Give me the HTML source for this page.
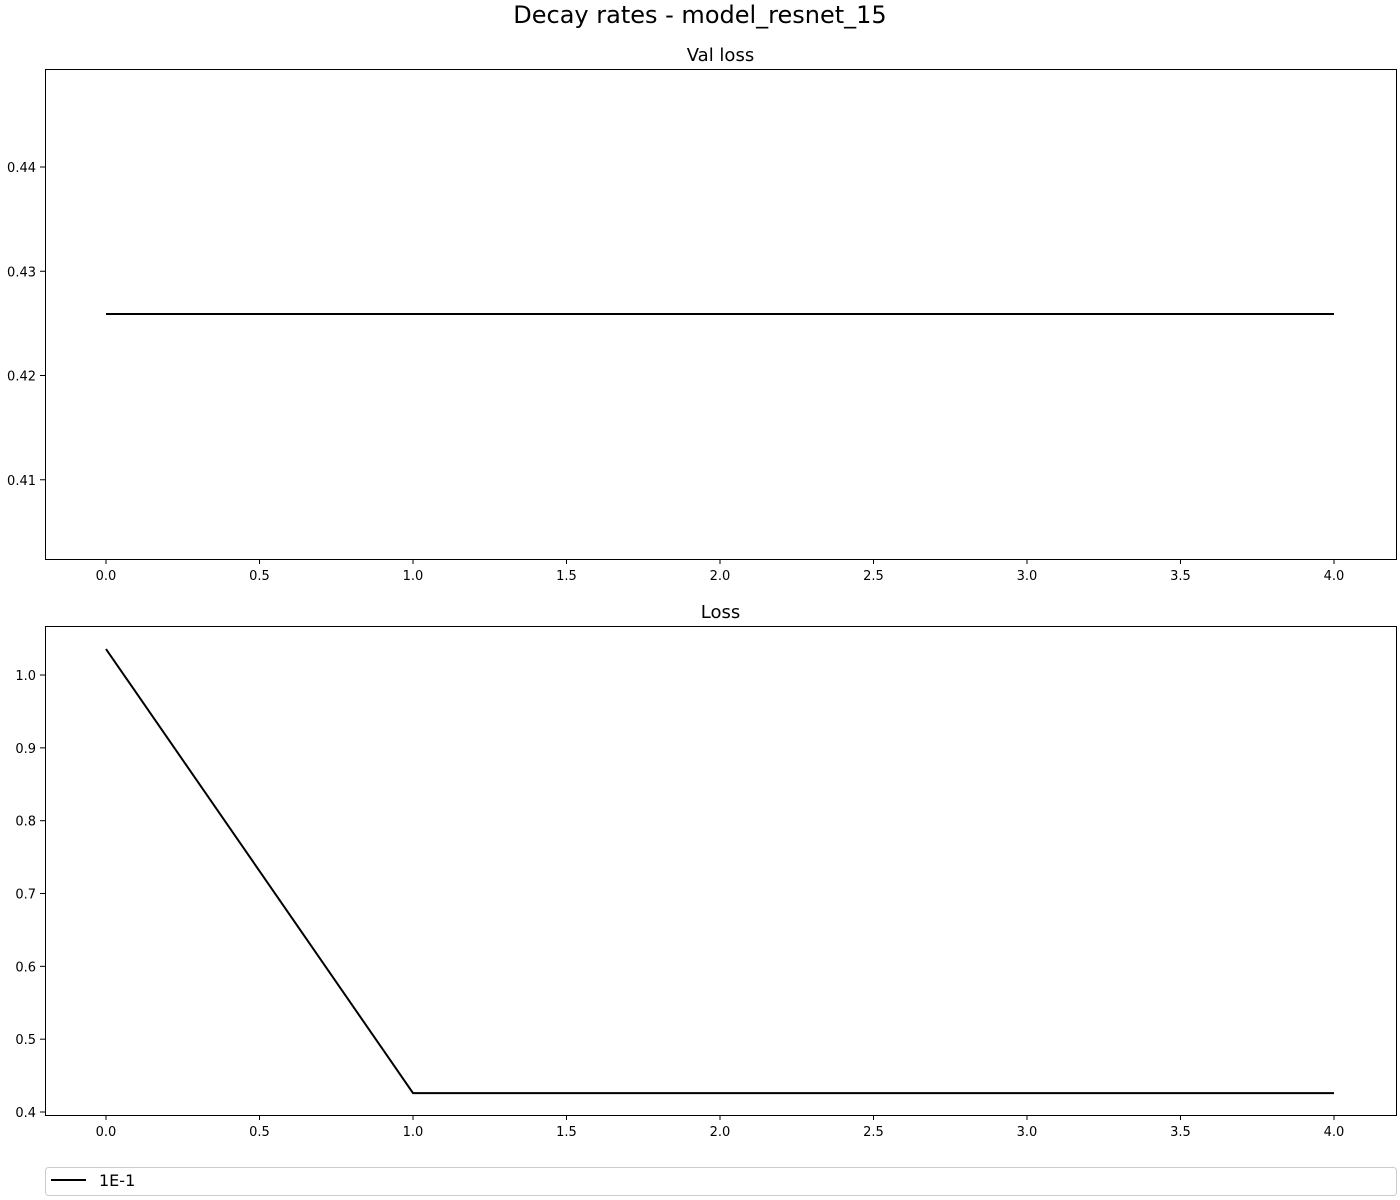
<!DOCTYPE html>
<html><head><meta charset="utf-8"><style>
html,body{margin:0;padding:0;background:#fff;}
svg{display:block;font-family:"DejaVu Sans","Liberation Sans",sans-serif;}
</style></head><body>
<svg id="chart" width="1400" height="1200" xmlns="http://www.w3.org/2000/svg">
<rect width="1400" height="1200" fill="#fff"/>
<text x="700" y="23" text-anchor="middle" font-size="24">Decay rates - model_resnet_15</text>
</svg>
<script>
const epochs = [0, 1, 2, 3, 4];
const valLoss = [0.4259, 0.4259, 0.4259, 0.4259, 0.4259];
const trainLoss = [1.0357, 0.426, 0.426, 0.426, 0.426];
const xTicks = [0, 0.5, 1, 1.5, 2, 2.5, 3, 3.5, 4];
const valYTicks = [0.41, 0.42, 0.43, 0.44];
const lossYTicks = [0.4, 0.5, 0.6, 0.7, 0.8, 0.9, 1.0];
const legendLabels = ['1E-1'];

const NS = 'http://www.w3.org/2000/svg';
const svg = document.getElementById('chart');
function mk(tag, attrs, parent) {
  const e = document.createElementNS(NS, tag);
  for (const k in attrs) e.setAttribute(k, attrs[k]);
  (parent || svg).appendChild(e);
  return e;
}
function panel(name, title, box, ymin, ymax, yTicks, ydec, series) {
  const g = mk('g', {});
  
  
  const xs = v => 106 + (v - 0) * (1334 - 106) / 4;
  const ys = v => box.b - (v - ymin) / (ymax - ymin) * (box.b - box.t);
  const t = mk('text', {x: (box.l + box.r) / 2, y: box.t - 8, 'text-anchor': 'middle', 'font-size': 18}, g);
  t.textContent = title;
  
  
  xTicks.forEach(v => {
    const x = xs(v);
    mk('line', {x1: x, x2: x, y1: box.b, y2: box.b + 5, stroke: '#000', 'stroke-width': 1}, g);
    const tl = mk('text', {x: x, y: box.b + 21, 'text-anchor': 'middle', 'font-size': 13}, g);
    tl.textContent = v.toFixed(1);
    
    
  });
  yTicks.forEach(v => {
    const y = ys(v);
    mk('line', {x1: box.l - 5, x2: box.l, y1: y, y2: y, stroke: '#000', 'stroke-width': 1}, g);
    const tl = mk('text', {x: box.l - 9, y: y + 5, 'text-anchor': 'end', 'font-size': 13}, g);
    tl.textContent = v.toFixed(ydec);
    
    
  });
  const pts = epochs.map((e, i) => xs(e) + ',' + ys(series[i])).join(' ');
  const pl = mk('polyline', {points: pts, fill: 'none', stroke: '#000', 'stroke-width': 2}, g);
  
  
  const fr = mk('rect', {x: box.l + 0.5, y: box.t + 0.5, width: box.r - box.l, height: box.b - box.t, fill: 'none', stroke: '#000', 'stroke-width': 1}, g);
  
  
}
panel('val-loss', 'Val loss', {l: 45, r: 1396, t: 69, b: 559}, 0.4024, 0.4494, valYTicks, 2, valLoss);
panel('loss', 'Loss', {l: 45, r: 1396, t: 626, b: 1115}, 0.3959, 1.0673, lossYTicks, 1, trainLoss);

const lg = mk('g', {});


mk('rect', {x: 45.5, y: 1167.5, width: 1351, height: 28, rx: 3, fill: '#fff', stroke: '#ccc', 'stroke-width': 1}, lg);
legendLabels.forEach((lab, i) => {
  const le = mk('g', {}, lg);
  
  
  mk('line', {x1: 51, x2: 86, y1: 1180, y2: 1180, stroke: '#000', 'stroke-width': 2}, le);
  const t = mk('text', {x: 99, y: 1186, 'font-size': 16}, le);
  t.textContent = lab;
});
</script>
</body></html>
